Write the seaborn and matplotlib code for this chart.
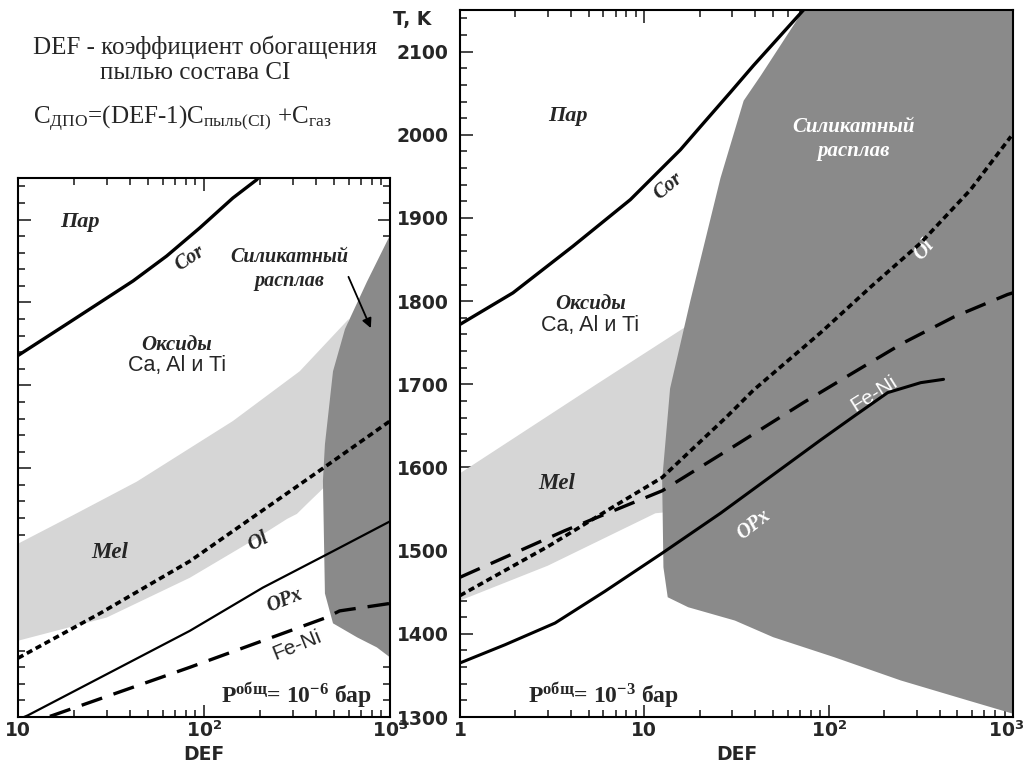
import matplotlib
matplotlib.use('Agg')
import matplotlib.pyplot as plt
import matplotlib.transforms as mtransforms
import seaborn as sns
from matplotlib.ticker import MultipleLocator, FixedLocator, FixedFormatter, LogLocator, NullFormatter

# ---- data (DEF, T in K) ----
# left panel, P = 1e-6 bar
l_cor_def = [10, 18.3, 27.6, 41.6, 63, 95, 143, 192, 215]
l_cor_t = [1736, 1774, 1800, 1826, 1856, 1890, 1926, 1948, 1962]
l_ol_def = [10, 27.6, 84, 436, 1000]
l_ol_t = [1371, 1425, 1488, 1600, 1657]
l_opx_def = [10, 11.3, 84, 207, 494, 1000]
l_opx_t = [1297, 1302, 1404, 1456, 1500, 1536]
l_feni_def = [10, 15.4, 84, 455, 536, 1000]
l_feni_t = [1288, 1302, 1360, 1420, 1428, 1437]
l_mel_def = [10, 20, 43.6, 143, 327, 600, 560, 420, 358, 316, 280, 193, 84, 30, 10]
l_mel_t = [1509, 1544, 1584, 1657, 1717, 1780, 1600, 1572, 1557, 1545, 1539, 1516, 1468, 1420, 1392]
l_melt_def = [1000, 752, 573, 494, 447, 436, 447, 494, 667, 850, 1000]
l_melt_t = [1881, 1825, 1768, 1717, 1629, 1585, 1449, 1413, 1396, 1384, 1372]

# right panel, P = 1e-3 bar
r_cor_def = [1, 1.94, 4.1, 8.4, 15.7, 20.2, 29.3, 39, 73, 80]
r_cor_t = [1772, 1810, 1866, 1922, 1982, 2010, 2051, 2083, 2150, 2162]
r_ol_def = [1, 3, 6.7, 12.5, 28, 39.1, 90.4, 169, 316, 589, 975]
r_ol_t = [1446, 1505, 1552, 1588, 1661, 1693, 1762, 1817, 1870, 1934, 1998]
r_opx_def = [1, 1.76, 3.28, 6.1, 12.5, 25.9, 48.4, 90.4, 136, 209, 316, 420]
r_opx_t = [1365, 1387, 1413, 1451, 1497, 1545, 1589, 1633, 1661, 1690, 1702, 1706]
r_feni_def = [1, 3.7, 12.5, 30.4, 73, 136, 255, 478, 935, 1000]
r_feni_t = [1468, 1524, 1572, 1625, 1678, 1714, 1750, 1781, 1808, 1810]
r_mel_def = [1, 5.5, 17, 16, 11.5, 3, 1]
r_mel_t = [1593, 1700, 1770, 1548, 1545, 1482, 1440]
r_melt_def = [73, 42.8, 34.6, 25.9, 17.8, 13.8, 12.5, 12.7, 13.4, 17.3, 31, 50, 107, 246, 569, 1000, 1000, 73]
r_melt_t = [2150, 2071, 2041, 1948, 1801, 1695, 1585, 1480, 1444, 1432, 1416, 1396, 1372, 1344, 1320, 1304, 2160, 2160]

light_gray = '#d6d6d6'
dark_gray = '#8a8a8a'

sns.set_style('ticks')
plt.rcParams['font.family'] = ['DejaVu Sans']
plt.rcParams['mathtext.fontset'] = 'custom'
plt.rcParams['mathtext.rm'] = 'Liberation Serif'
plt.rcParams['mathtext.bf'] = 'Liberation Serif:bold'
plt.rcParams['mathtext.sf'] = 'DejaVu Sans:bold'
plt.rcParams['mathtext.it'] = 'Liberation Serif:italic'

fig = plt.figure(figsize=(10.26, 7.71), dpi=100)
ax1 = fig.add_axes([0.0175, 0.070, 0.3626, 0.699])
ax2 = fig.add_axes([0.4483, 0.070, 0.539, 0.917])

dot = (0, (1.7, 1.1))
dash = (0, (6.5, 3.6))


def draw(ax, cor, ol, opx, feni, mel, melt, lw_opx):
    ax.set_xscale('log')
    ax.fill(mel[0], mel[1], color=light_gray, lw=0, zorder=1)
    ax.fill(melt[0], melt[1], color=dark_gray, lw=0, zorder=2)
    sns.lineplot(x=cor[0], y=cor[1], ax=ax, color='k', lw=2.4, sort=False, estimator=None, zorder=4)
    sns.lineplot(x=ol[0], y=ol[1], ax=ax, color='k', lw=2.6, linestyle=dot, sort=False, estimator=None, zorder=4)
    sns.lineplot(x=opx[0], y=opx[1], ax=ax, color='k', lw=lw_opx, sort=False, estimator=None, zorder=4)
    sns.lineplot(x=feni[0], y=feni[1], ax=ax, color='k', lw=2.4, linestyle=dash, sort=False, estimator=None, zorder=4)
    ax.yaxis.set_major_locator(MultipleLocator(100))
    ax.yaxis.set_minor_locator(MultipleLocator(20))
    ax.xaxis.set_minor_locator(LogLocator(base=10, subs=range(2, 10)))
    ax.xaxis.set_minor_formatter(NullFormatter())
    ax.tick_params(which='both', direction='in', top=True, right=True, width=1.2)
    ax.tick_params(which='major', length=9)
    ax.tick_params(which='minor', length=5)
    ax.tick_params(axis='x', pad=3, labelsize=13.5)
    for s in ax.spines.values():
        s.set_linewidth(1.5)
        s.set_color('k')
    ax.set_ylabel('')
    ax.set_xlabel('DEF', fontsize=13.5, fontweight='bold', labelpad=3)


draw(ax1, (l_cor_def, l_cor_t), (l_ol_def, l_ol_t), (l_opx_def, l_opx_t),
     (l_feni_def, l_feni_t), (l_mel_def, l_mel_t), (l_melt_def, l_melt_t), 1.6)
draw(ax2, (r_cor_def, r_cor_t), (r_ol_def, r_ol_t), (r_opx_def, r_opx_t),
     (r_feni_def, r_feni_t), (r_mel_def, r_mel_t), (r_melt_def, r_melt_t), 2.2)

ax1.set_xlim(10, 1000)
ax1.set_ylim(1300, 1950)
ax2.set_xlim(1, 1000)
ax2.set_ylim(1300, 2150)

ax1.xaxis.set_major_locator(FixedLocator([10, 100, 1000]))
ax1.xaxis.set_major_formatter(FixedFormatter(['10', r'10$^{\mathsf{2}}$', r'10$^{\mathsf{3}}$']))
ax1.tick_params(axis='y', labelleft=False)
ax2.xaxis.set_major_locator(FixedLocator([1, 10, 100, 1000]))
ax2.xaxis.set_major_formatter(FixedFormatter(['1', '10', r'10$^{\mathsf{2}}$', r'10$^{\mathsf{3}}$']))
ax2.tick_params(axis='y', labelsize=13.5, pad=8)
for ax in (ax1, ax2):
    for t in ax.get_xticklabels() + ax.get_yticklabels():
        t.set_fontweight('bold')

# keep the last tick label of the right panel inside the figure
last = ax2.xaxis.get_major_ticks()[-1].label1
last.set_transform(last.get_transform() + mtransforms.ScaledTranslation(-5 / 72, 0, fig.dpi_scale_trans))

ax2.text(-0.087, 0.986, 'T, K', transform=ax2.transAxes, ha='center', va='center',
         fontsize=13.5, fontweight='bold')

lab = dict(family='Liberation Serif', style='italic', weight='bold')
san = dict(family='Liberation Sans')

# left panel labels
ax1.text(21.5, 1897, 'Пар', fontsize=16, ha='center', va='center', **lab)
ax1.text(84, 1853, 'Cor', fontsize=14.5, ha='center', va='center', rotation=33, **lab)
ax1.text(288, 1840, 'Силикатный\nрасплав', fontsize=14.5, ha='center', va='center', linespacing=1.25, **lab)
ax1.text(71.5, 1749, 'Оксиды', fontsize=15, ha='center', va='center', **lab)
ax1.text(71.5, 1724, 'Ca, Al и Ti', fontsize=15.5, ha='center', va='center', **san)
ax1.text(31, 1498, 'Mel', fontsize=16.5, ha='center', va='center', **lab)
ax1.text(195, 1512, 'Ol', fontsize=15, ha='center', va='center', rotation=28, **lab)
ax1.text(272, 1440, 'OPx', fontsize=14.5, ha='center', va='center', rotation=22, **lab)
ax1.text(316, 1386, 'Fe-Ni', fontsize=15, ha='center', va='center', rotation=22, **san)
ax1.text(316, 1326, r'P$^{\mathbf{общ}}$= 10$^{\mathbf{-6}}$ бар', fontsize=17, ha='center', va='center',
         family='Liberation Serif', weight='bold')
ax1.annotate('', xy=(800, 1766), xytext=(590, 1834),
             arrowprops=dict(arrowstyle='-|>', color='k', lw=1.3, mutation_scale=14))

# right panel labels
ax2.text(3.86, 2023, 'Пар', fontsize=16, ha='center', va='center', **lab)
ax2.text(13.5, 1938, 'Cor', fontsize=14.5, ha='center', va='center', rotation=40, **lab)
ax2.text(5.1, 1797, 'Оксиды', fontsize=15, ha='center', va='center', **lab)
ax2.text(5.1, 1771, 'Ca, Al и Ti', fontsize=15.5, ha='center', va='center', **san)
ax2.text(136, 1995, 'Силикатный\nрасплав', fontsize=15, ha='center', va='center', color='white',
         linespacing=1.25, **lab)
ax2.text(3.37, 1581, 'Mel', fontsize=16.5, ha='center', va='center', **lab)
ax2.text(328, 1862, 'Ol', fontsize=15, ha='center', va='center', rotation=50, color='white', **lab)
ax2.text(176, 1689, 'Fe-Ni', fontsize=15, ha='center', va='center', rotation=32, color='white', **san)
ax2.text(39, 1531, 'OPx', fontsize=14.5, ha='center', va='center', rotation=38, color='white', **lab)
ax2.text(6.0, 1326, r'P$^{\mathbf{общ}}$= 10$^{\mathbf{-3}}$ бар', fontsize=17, ha='center', va='center',
         family='Liberation Serif', weight='bold')

# header text
fig.text(0.032, 0.939, 'DEF - коэффициент обогащения', fontsize=18, family='Liberation Serif',
         ha='left', va='center')
fig.text(0.0975, 0.905, 'пылью состава CI', fontsize=18, family='Liberation Serif',
         ha='left', va='center')
fig.text(0.032, 0.847, r'C$_{\mathrm{ДПО}}$=(DEF-1)C$_{\mathrm{пыль(CI)}}$ +C$_{\mathrm{газ}}$',
         fontsize=18, family='Liberation Serif', ha='left', va='center')

fig.savefig('out.png', dpi=100)
